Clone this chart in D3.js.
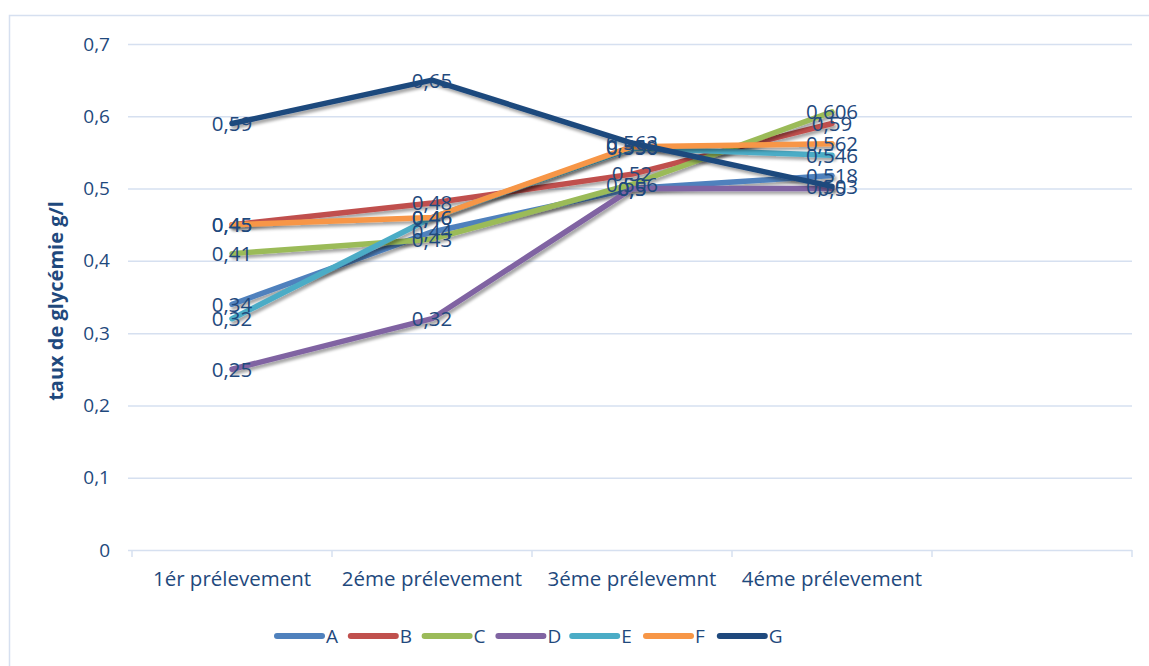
<!DOCTYPE html>
<html>
<head>
<meta charset="utf-8">
<script src="https://cdn.jsdelivr.net/npm/d3@7/dist/d3.min.js"></script>
<style>
  html, body { margin: 0; padding: 0; background: #fff; }
  svg { display: block; }
  text { font-family: "Open Sans", "Noto Sans", sans-serif; fill: #1F497D; }
</style>
</head>
<body>
<svg id="chart" width="1149" height="666"></svg>
<script>
// Prélèvements (the last slot is an empty category)
const categories = ["1ér prélevement", "2éme prélevement", "3éme prélevemnt", "4éme prélevement", ""];
const seriesNames = ["A", "B", "C", "D", "E", "F", "G"];
const seriesColors = ["#4F81BD", "#C0504D", "#9BBB59", "#8064A2", "#4BACC6", "#F79646", "#1F497D"];

// Taux de glycémie (g/l) per series, one value per prélèvement
const valuesA = [0.34, 0.44, 0.5, 0.518];
const valuesB = [0.45, 0.48, 0.52, 0.59];
const valuesC = [0.41, 0.43, 0.506, 0.606];
const valuesD = [0.25, 0.32, 0.5, 0.5];
const valuesE = [0.32, 0.46, 0.556, 0.546];
const valuesF = [0.45, 0.46, 0.558, 0.562];
const valuesG = [0.59, 0.65, 0.563, 0.503];

const yTicks = [0, 0.1, 0.2, 0.3, 0.4, 0.5, 0.6, 0.7];
const yTitle = "taux de glycémie g/l";

const allValues = [valuesA, valuesB, valuesC, valuesD, valuesE, valuesF, valuesG];
const series = seriesNames.map((name, i) => ({
  name, color: seriesColors[i],
  points: allValues[i].map((v, j) => ({ cat: categories[j], v }))
}));

const svg = d3.select("#chart");
const fmt = v => String(v).replace(".", ",");
const textColor = "#1F497D";

// Chart area frame
svg.append("rect")
  .attr("x", 9.5).attr("y", 15.5).attr("width", 1160).attr("height", 680)
  .attr("fill", "#fff").attr("stroke", "#D6E0F0").attr("stroke-width", 1.5);

const plot = { left: 132, right: 1132, top: 44, bottom: 550 };

const x = d3.scaleBand().domain(categories).range([plot.left, plot.right]);
const y = d3.scaleLinear().domain([0, 0.7]).range([plot.bottom, plot.top]);

// Drop shadow for the series lines
const defs = svg.append("defs");
const f = defs.append("filter").attr("id", "shadow")
  .attr("x", "-10%").attr("y", "-10%").attr("width", "130%").attr("height", "140%");
f.append("feDropShadow").attr("dx", 2).attr("dy", 3).attr("stdDeviation", 1.6)
  .attr("flood-color", "#000").attr("flood-opacity", 0.35);

// Horizontal gridlines and value axis
const yAxis = svg.append("g").attr("transform", `translate(${plot.left},0)`)
  .call(d3.axisLeft(y).tickValues(yTicks).tickFormat(fmt)
    .tickSizeInner(-(plot.right - plot.left)).tickSizeOuter(0).tickPadding(22));
yAxis.select(".domain").remove();
yAxis.selectAll(".tick line")
  .attr("x1", -4)
  .attr("stroke", "#D6E0F0").attr("stroke-width", 1.5);
yAxis.selectAll(".tick text")
  .attr("font-size", 19).attr("fill", textColor).style("font-family", "'Open Sans', sans-serif");

// Category axis
const xAxis = svg.append("g").attr("transform", `translate(0,${plot.bottom})`)
  .call(d3.axisBottom(x).tickSize(0).tickPadding(21));
xAxis.select(".domain").remove();
xAxis.selectAll(".tick text")
  .attr("font-size", 20.5).attr("fill", textColor).style("font-family", "'Open Sans', sans-serif");
const edges = categories.map(c => x(c)).concat([x(categories[categories.length - 1]) + x.bandwidth()]);
svg.append("g").selectAll("line").data(edges).join("line")
  .attr("x1", d => d).attr("x2", d => d)
  .attr("y1", plot.bottom).attr("y2", plot.bottom + 7)
  .attr("stroke", "#D6E0F0").attr("stroke-width", 1.5);

// Value axis title
svg.append("text")
  .attr("transform", `translate(63,${(plot.top + plot.bottom) / 2 + 4}) rotate(-90)`)
  .attr("text-anchor", "middle")
  .attr("font-size", 20).attr("font-weight", "bold")
  .text(yTitle);

// Series lines
const line = d3.line().x(d => x(d.cat) + x.bandwidth() / 2).y(d => y(d.v));
svg.append("g").selectAll("path").data(series).join("path")
  .attr("d", d => line(d.points))
  .attr("fill", "none")
  .attr("stroke", d => d.color)
  .attr("stroke-width", 5.5)
  .attr("stroke-linecap", "round")
  .attr("stroke-linejoin", "round")
  .attr("filter", "url(#shadow)");

// Data labels, centred on each point
const labels = svg.append("g");
series.forEach(s => {
  labels.selectAll(null).data(s.points).join("text")
    .attr("x", d => x(d.cat) + x.bandwidth() / 2)
    .attr("y", d => y(d.v))
    .attr("dy", "0.36em")
    .attr("text-anchor", "middle")
    .attr("font-size", 20.5)
    .text(d => fmt(d.v));
});

// Legend
const legend = svg.append("g").attr("transform", "translate(277,636)");
const item = legend.selectAll("g").data(series).join("g")
  .attr("transform", (d, i) => `translate(${i * 73.8},0)`);
item.append("line")
  .attr("x1", 0).attr("x2", 45).attr("y1", 0).attr("y2", 0)
  .attr("stroke", d => d.color).attr("stroke-width", 6).attr("stroke-linecap", "round");
item.append("text")
  .attr("x", 49).attr("y", 0).attr("dy", "0.36em")
  .attr("font-size", 19)
  .text(d => d.name);
</script>
</body>
</html>
